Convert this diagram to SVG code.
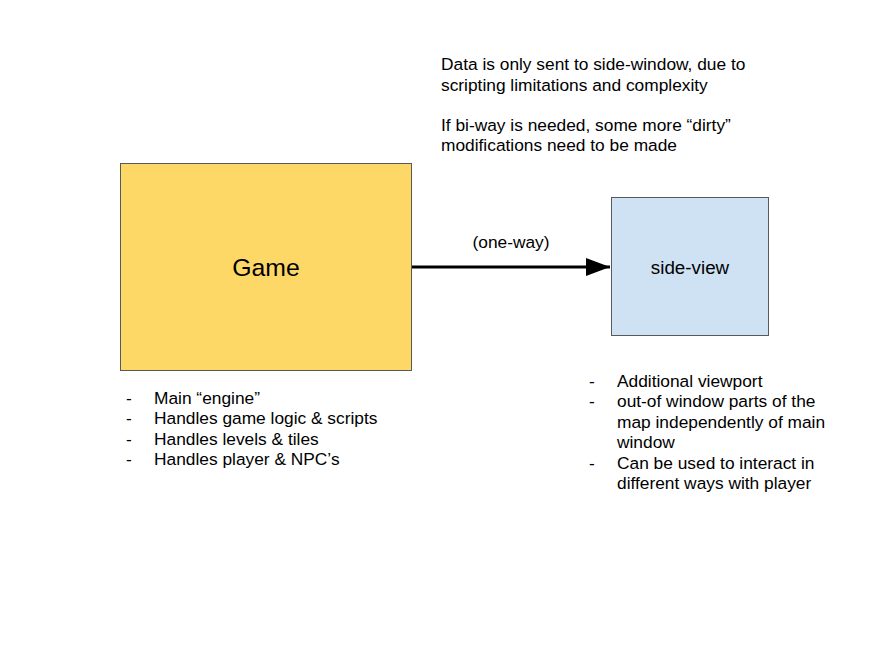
<svg xmlns="http://www.w3.org/2000/svg" width="889" height="667" viewBox="0 0 889 667">
<style>
text{font-family:"Liberation Sans",Arial,sans-serif;font-size:17.33px;fill:#000}
.node{stroke:#595959;stroke-width:1}
.big{font-size:24.8px}
.sv{font-size:18.8px}
.mid{text-anchor:middle}
</style>
<defs>
<marker id="arr" markerWidth="8" markerHeight="6" refX="8" refY="3" orient="auto" markerUnits="strokeWidth">
<path d="M0,0 L8,3 L0,6 Z" fill="#000"/>
</marker>
</defs>
<rect width="889" height="667" fill="#fff"/>
<g id="notes">
<text x="441" y="70">Data is only sent to side-window, due to</text>
<text x="441" y="91">scripting limitations and complexity</text>
<text x="441" y="131">If bi-way is needed, some more “dirty”</text>
<text x="441" y="151">modifications need to be made</text>
</g>
<g id="game">
<rect class="node" x="120.5" y="163.5" width="291" height="207" fill="#fdd867"/>
<text class="big mid" x="266" y="276">Game</text>
</g>
<g id="side-view">
<rect class="node" x="611.5" y="197.5" width="157" height="138" fill="#cfe2f3"/>
<text class="sv mid" x="690" y="274">side-view</text>
</g>
<g id="connectors">
<line x1="412" y1="267" x2="610" y2="267" stroke="#000" stroke-width="3" marker-end="url(#arr)"/>
<text class="mid" x="511" y="248">(one-way)</text>
</g>
<g id="game-list">
<text x="126" y="404">-</text><text x="154" y="404">Main “engine”</text>
<text x="126" y="424">-</text><text x="154" y="424">Handles game logic &amp; scripts</text>
<text x="126" y="445">-</text><text x="154" y="445">Handles levels &amp; tiles</text>
<text x="126" y="465">-</text><text x="154" y="465">Handles player &amp; NPC’s</text>
</g>
<g id="side-list">
<text x="589" y="387">-</text><text x="617" y="387">Additional viewport</text>
<text x="589" y="407">-</text><text x="617" y="407">out-of window parts of the</text>
<text x="617" y="428">map independently of main</text>
<text x="617" y="448">window</text>
<text x="589" y="469">-</text><text x="617" y="469">Can be used to interact in</text>
<text x="617" y="489">different ways with player</text>
</g>
</svg>
